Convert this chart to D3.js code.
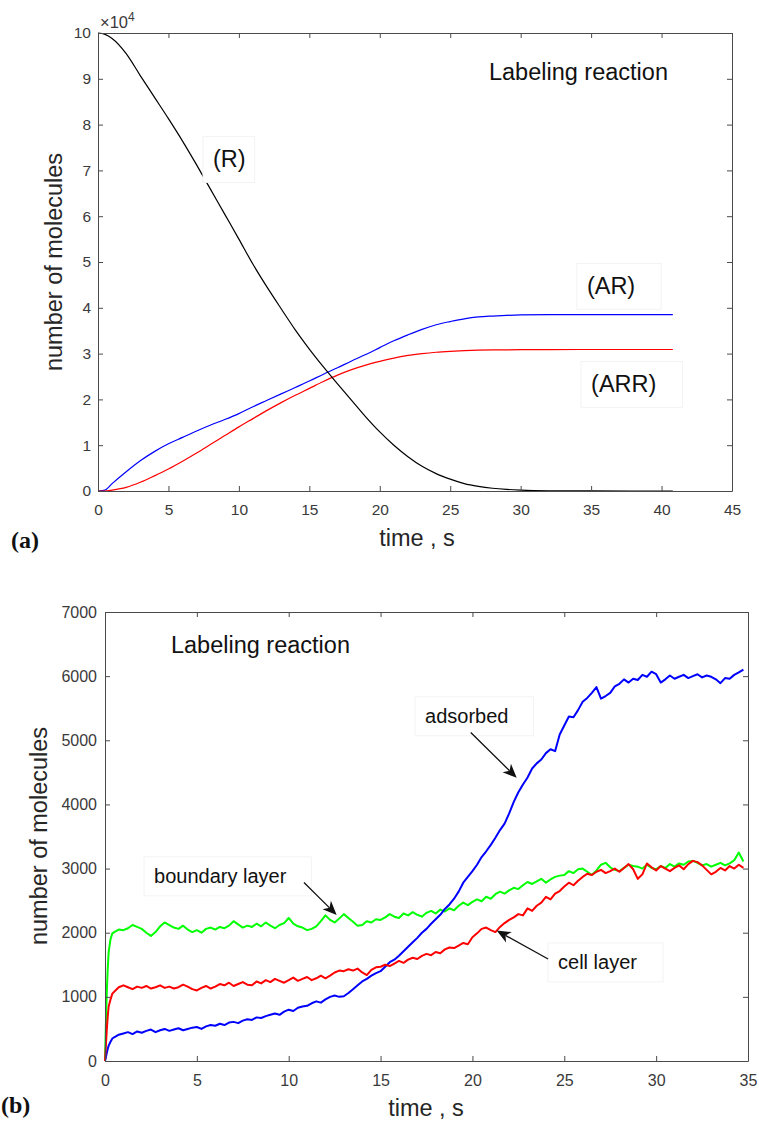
<!DOCTYPE html>
<html lang="en">
<head>
<meta charset="UTF-8">
<title>Labeling reaction</title>
<script src="https://d3js.org/d3.v7.min.js"></script>
<style>
  body { margin: 0; background: #fff; }
  svg { display: block; font-family: "Liberation Sans", Arial, sans-serif; }
  .tick text { fill: #3a3a3a; }
  .domain, .tick line { stroke: #4a4a4a; }
  .note { fill: #111; }
  .note-box { fill: #fff; stroke: #f3f3f3; }
  .axis-title { fill: #262626; font-size: 23.5px; }
  .panel { font-family: "Liberation Serif", serif; font-weight: bold; font-size: 24px; fill: #111; }
</style>
</head>
<body>
<svg id="chart" width="759" height="1124"></svg>
<script>
// ---- panel (a): deterministic model, values in units of 1e4 molecules
const timeA = [0, 0.5, 1, 2, 3, 4, 5, 6, 7, 8, 9, 10, 11, 12, 13, 14, 15, 16, 17, 18, 19, 20,
  21, 22, 23, 24, 25, 26, 27, 28, 29, 30, 32, 35, 40.8];
const seriesR = [10, 9.97, 9.88, 9.55, 9.07, 8.6, 8.13, 7.64, 7.12, 6.58, 6.04, 5.5, 4.95, 4.45,
  3.98, 3.52, 3.1, 2.71, 2.34, 1.98, 1.62, 1.29, 1.0, 0.75, 0.54, 0.38, 0.26, 0.16, 0.1, 0.06,
  0.035, 0.02, 0.006, 0.001, 0];
const seriesAR = [0, 0.02, 0.16, 0.42, 0.66, 0.86, 1.03, 1.17, 1.31, 1.44, 1.56, 1.69, 1.84, 1.98,
  2.12, 2.26, 2.4, 2.55, 2.69, 2.84, 2.98, 3.13, 3.28, 3.41, 3.53, 3.63, 3.7, 3.76, 3.8, 3.82,
  3.835, 3.845, 3.85, 3.85, 3.85];
const seriesARR = [0, 0, 0.02, 0.08, 0.19, 0.33, 0.48, 0.65, 0.83, 1.02, 1.21, 1.4, 1.58, 1.76,
  1.93, 2.09, 2.24, 2.39, 2.53, 2.65, 2.75, 2.83, 2.9, 2.96, 3.0, 3.03, 3.05, 3.065, 3.075, 3.08,
  3.083, 3.085, 3.088, 3.09, 3.09];
const ticksAx = [0, 5, 10, 15, 20, 25, 30, 35, 40, 45];
const ticksAy = [0, 1, 2, 3, 4, 5, 6, 7, 8, 9, 10];

// ---- panel (b): stochastic simulation
const timeB = [0, 0.05, 0.1, 0.15, 0.2, 0.3, 0.4].concat(d3.range(0.5, 34.8, 0.25));
const boundary = [0, 600, 1100, 1450, 1700, 1900, 1990,
  2010, 2050,
  2040, 2070, 2120, 2090, 2060, 2000, 1950, 2010, 2100, 2160, 2120, 2080,
  2060, 2110, 2050, 2010, 2040, 2000, 2060, 2080, 2050, 2090, 2070, 2110,
  2180, 2130, 2080, 2110, 2090, 2140, 2100, 2160, 2110, 2070, 2120, 2150,
  2230, 2140, 2100, 2080, 2040, 2060, 2100, 2180, 2270, 2200, 2160, 2220,
  2290, 2230, 2170, 2110, 2120, 2180, 2160, 2210, 2200, 2240, 2290, 2250,
  2230, 2300, 2270, 2320, 2280, 2250, 2310, 2340, 2300, 2360, 2330, 2380,
  2350, 2420, 2470, 2430, 2480, 2520, 2490, 2560, 2530, 2600, 2640, 2610,
  2660, 2700, 2680, 2740, 2790, 2760, 2800, 2840, 2780, 2830, 2870, 2890,
  2900, 2960, 2930, 2990, 3000, 2950, 2900, 2970, 3060, 3090, 3020, 2980,
  2960, 3010, 3060, 3040, 3030, 3000, 3060, 3010, 2990, 3040, 3010, 3070,
  3030, 3080, 3060, 3110, 3120, 3090, 3050, 3070, 3030, 3060, 3090, 3050,
  3080, 3130, 3250, 3110];
const cell = [0, 250, 500, 700, 850, 960, 1050,
  1080, 1150,
  1180, 1150, 1120, 1160, 1140, 1170, 1130, 1150, 1180, 1140, 1160, 1130,
  1150, 1190, 1160, 1120, 1100, 1140, 1170, 1130, 1160, 1200, 1180, 1220,
  1170, 1200, 1230, 1190, 1180, 1240, 1210, 1260, 1230, 1280, 1250, 1220,
  1260, 1300, 1250, 1280, 1310, 1260, 1290, 1330, 1290, 1330, 1380, 1410,
  1400, 1430, 1410, 1440, 1380, 1340, 1420, 1460, 1470, 1500, 1480, 1520,
  1560, 1530, 1580, 1610, 1590, 1640, 1670, 1650, 1700, 1680, 1740, 1770,
  1760, 1800, 1840, 1820, 1930, 1990, 2060, 2080, 2040, 2010, 2090, 2150,
  2200, 2240, 2290, 2270, 2380, 2340, 2420, 2470, 2560, 2520, 2610, 2650,
  2720, 2780, 2740, 2810, 2870, 2920, 2900, 2950, 2980, 2930, 2960, 3000,
  2950, 3010, 3070, 2990, 2840, 2910, 3080, 3020, 2970, 3040, 3000, 2960,
  3010, 3050, 2990, 3070, 3120, 3100, 3050, 2980, 2910, 2950, 3010, 2970,
  3040, 3000, 3060, 3010];
const adsorbed = [0, 60, 130, 190, 240, 300, 350,
  370, 410,
  430, 450, 420, 460, 440, 470, 490, 450, 480, 500, 470, 490,
  510, 480, 500, 520, 530, 500, 540, 560, 550, 580, 560, 600,
  610, 590, 630, 650, 640, 680, 670, 700, 720, 740, 720, 770,
  800, 780, 830, 850, 860, 900, 930, 910, 960, 1000, 1020, 1000,
  1010, 1060, 1120, 1180, 1240, 1280, 1330, 1370, 1400, 1470, 1540, 1580,
  1640, 1710, 1780, 1850, 1920, 2000, 2060, 2140, 2210, 2280, 2370, 2440,
  2530, 2640, 2780, 2870, 2960, 3060, 3180, 3270, 3370, 3480, 3600, 3700,
  3860, 4040, 4190, 4310, 4420, 4560, 4640, 4700, 4800, 4860, 4830, 5090,
  5230, 5370, 5360, 5470, 5600, 5660, 5740, 5830, 5650, 5690, 5740, 5840,
  5880, 5950, 5900, 5960, 5940, 6020, 5990, 6070, 6030, 5900, 5950, 6010,
  5960, 5990, 6020, 5970, 6000, 6030, 5980, 6010, 5990, 5950, 5890, 5970,
  5960, 6020, 6060, 6100];
const ticksBx = [0, 5, 10, 15, 20, 25, 30, 35];
const ticksBy = [0, 1000, 2000, 3000, 4000, 5000, 6000, 7000];

const svg = d3.select("#chart");

function drawFrame(g, x, y, tx, ty, fs, padX, padY) {
    const [x0, x1] = x.range(), [y0, y1] = y.range();
    const blank = () => "";
    g.append("g").attr("transform", `translate(0,${y0})`)
        .call(d3.axisBottom(x).tickValues(tx).tickFormat(d3.format("d"))
            .tickSizeInner(-5).tickSizeOuter(0).tickPadding(padX))
        .attr("font-size", fs).attr("font-family", null);
    g.append("g").attr("transform", `translate(0,${y1})`)
        .call(d3.axisTop(x).tickValues(tx).tickSizeInner(-5).tickSizeOuter(0).tickFormat(blank));
    g.append("g").attr("transform", `translate(${x0},0)`)
        .call(d3.axisLeft(y).tickValues(ty).tickFormat(d3.format("d"))
            .tickSizeInner(-5).tickSizeOuter(0).tickPadding(padY))
        .attr("font-size", fs).attr("font-family", null);
    g.append("g").attr("transform", `translate(${x1},0)`)
        .call(d3.axisRight(y).tickValues(ty).tickSizeInner(-5).tickSizeOuter(0).tickFormat(blank));
}

function drawNote(g, x, y, n) {
    const box = g.append("rect").attr("class", "note-box");
    const txt = g.append("text").attr("class", "note")
        .attr("x", x(n.t)).attr("y", y(n.v))
        .attr("font-size", n.size)
        .text(n.text);
    const w = txt.node().getComputedTextLength();
    box.attr("x", x(n.t) - 10).attr("y", y(n.v) - 1.3 * n.size)
        .attr("width", w + 10 + n.padR).attr("height", 1.95 * n.size);
}

function drawArrow(g, x, y, a) {
    const xs = x(a.from[0]), ys = y(a.from[1]), xe = x(a.to[0]), ye = y(a.to[1]);
    const ang = Math.atan2(ye - ys, xe - xs);
    const len = 14, half = 6, back = 10;
    const pt = (d, s) => [xe - d * Math.cos(ang) - s * Math.sin(ang), ye - d * Math.sin(ang) + s * Math.cos(ang)];
    g.append("line")
        .attr("x1", xs).attr("y1", ys)
        .attr("x2", pt(back, 0)[0]).attr("y2", pt(back, 0)[1])
        .attr("stroke", "#111").attr("stroke-width", 1.3);
    g.append("path")
        .attr("d", "M" + [[xe, ye], pt(len, half), pt(back, 0), pt(len, -half)].join("L") + "Z")
        .attr("fill", "#111");
}

// ---------- panel (a)
const xA = d3.scaleLinear().domain([0, 45]).range([98, 732]);
const yA = d3.scaleLinear().domain([0, 10]).range([491, 33]);
const gA = svg.append("g");

const lineA = vals => d3.line().curve(d3.curveMonotoneX)
    .x((d, i) => xA(timeA[i])).y(d => yA(d))(vals);
[[seriesAR, "#0000ff"], [seriesARR, "#ff0000"], [seriesR, "#000000"]].forEach(([vals, c]) => {
    gA.append("path").attr("d", lineA(vals))
        .attr("fill", "none").attr("stroke", c).attr("stroke-width", 1.2);
});

drawFrame(gA, xA, yA, ticksAx, ticksAy, 15.5, 13, 7);

const notesA = [
    { text: "Labeling reaction", t: 27.75, v: 8.97, size: 23.5, padR: 10, plain: true },
    { text: "(R)", t: 8.16, v: 7.07, size: 23.5, padR: 9 },
    { text: "(AR)", t: 34.7, v: 4.3, size: 23.5, padR: 26 },
    { text: "(ARR)", t: 35.0, v: 2.16, size: 23.5, padR: 26 }
];
notesA.forEach(n => {
    if (n.plain) {
        gA.append("text").attr("class", "note").attr("x", xA(n.t)).attr("y", yA(n.v))
            .attr("font-size", n.size).text(n.text);
    } else drawNote(gA, xA, yA, n);
});

const expo = gA.append("text").attr("x", 100).attr("y", 28).attr("font-size", 16.5).attr("fill", "#3a3a3a");
expo.append("tspan").text("\u00d710");
expo.append("tspan").attr("dy", -7).attr("font-size", 12).text("4");

gA.append("text").attr("class", "axis-title")
    .attr("transform", "translate(62,262) rotate(-90)")
    .attr("text-anchor", "middle").text("number of molecules");
gA.append("text").attr("class", "axis-title")
    .attr("x", 417).attr("y", 546).attr("text-anchor", "middle").text("time , s");
gA.append("text").attr("class", "panel").attr("x", 11).attr("y", 548).text("(a)");

// ---------- panel (b)
const xB = d3.scaleLinear().domain([0, 35]).range([105, 748]);
const yB = d3.scaleLinear().domain([0, 7000]).range([1061, 612]);
const gB = svg.append("g");

const lineB = vals => d3.line().x((d, i) => xB(timeB[i])).y(d => yB(d))(vals);
[[boundary, "#00ff00"], [adsorbed, "#0000ff"], [cell, "#ff0000"]].forEach(([vals, c]) => {
    gB.append("path").attr("d", lineB(vals))
        .attr("fill", "none").attr("stroke", c).attr("stroke-width", 2)
        .attr("stroke-linejoin", "round");
});

drawFrame(gB, xB, yB, ticksBx, ticksBy, 16, 14, 8);

gB.append("text").attr("class", "note").attr("x", xB(3.59)).attr("y", yB(6365))
    .attr("font-size", 23.5).text("Labeling reaction");

const notesB = [
    { text: "adsorbed", t: 17.42, v: 5273, size: 20, padR: 25 },
    { text: "boundary layer", t: 2.67, v: 2777, size: 20, padR: 25 },
    { text: "cell layer", t: 24.66, v: 1435, size: 20, padR: 26 }
];
notesB.forEach(n => drawNote(gB, xB, yB, n));

const arrowsB = [
    { from: [19.91, 5122], to: [22.41, 4415] },
    { from: [10.83, 2782], to: [12.61, 2278] },
    { from: [24.12, 1591], to: [21.32, 2033] }
];
arrowsB.forEach(a => drawArrow(gB, xB, yB, a));

gB.append("text").attr("class", "axis-title")
    .attr("transform", "translate(47,836) rotate(-90)")
    .attr("text-anchor", "middle").text("number of molecules");
gB.append("text").attr("class", "axis-title")
    .attr("x", 426).attr("y", 1116).attr("text-anchor", "middle").text("time , s");
gB.append("text").attr("class", "panel").attr("x", 1).attr("y", 1113).text("(b)");
</script>
</body>
</html>
